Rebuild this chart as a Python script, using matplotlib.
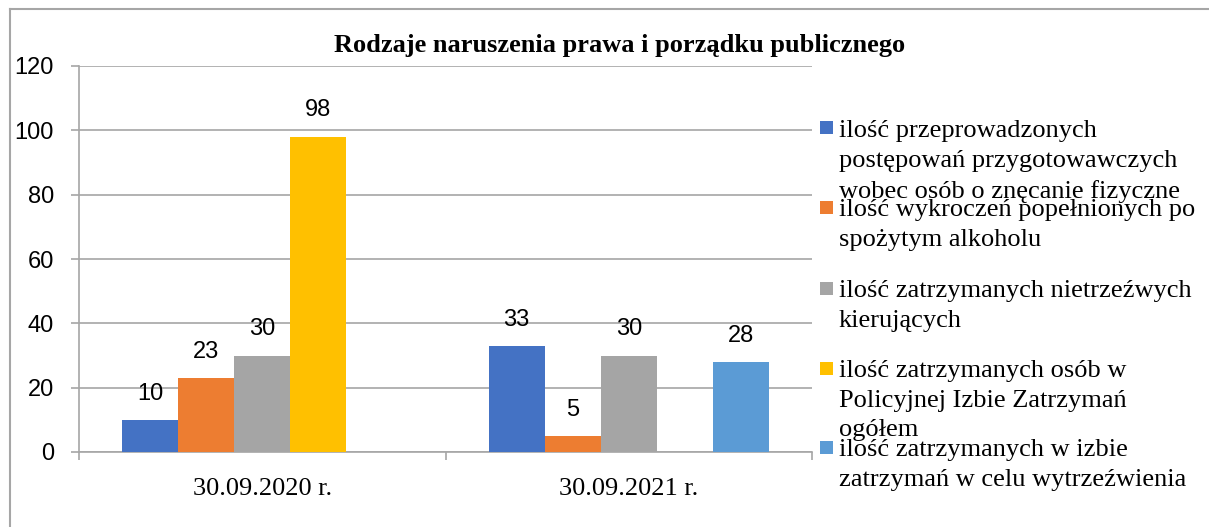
import numpy as np
import matplotlib.pyplot as plt
from matplotlib.patches import Rectangle

# ========== dane ==========
categories = ["30.09.2020 r.", "30.09.2021 r."]
series_names = [
    "ilość przeprowadzonych\npostępowań przygotowawczych\nwobec osób o znęcanie fizyczne",
    "ilość wykroczeń popełnionych po\nspożytym alkoholu",
    "ilość zatrzymanych nietrzeźwych\nkierujących",
    "ilość zatrzymanych osób w\nPolicyjnej Izbie Zatrzymań\nogółem",
    "ilość zatrzymanych w izbie\nzatrzymań w celu wytrzeźwienia",
]
s1 = [10, 33]
s2 = [23, 5]
s3 = [30, 30]
s4 = [98, np.nan]
s5 = [np.nan, 28]
yticks = [0, 20, 40, 60, 80, 100, 120]

colors = ["#4472C4", "#ED7D31", "#A5A5A5", "#FFC000", "#5B9BD5"]
GRID = "#a6a6a6"
SERIF = "Liberation Serif"
SANS = "Liberation Sans"

W, H = 1209, 527
fig = plt.figure(figsize=(W / 100, H / 100), dpi=100)
ax = fig.add_axes([79 / W, 1 - 452 / H, (812 - 79) / W, (452 - 66) / H])

x = np.arange(len(categories))
bw = 56 / 366
for i, vals in enumerate([s1, s2, s3, s4, s5]):
    vals = np.array(vals, dtype=float)
    bars = ax.bar(x + (i - 2) * bw, np.nan_to_num(vals), width=bw,
                  color=colors[i], edgecolor="none", zorder=3)
    labels = ["" if np.isnan(v) else f"{int(v)}" for v in vals]
    ax.bar_label(bars, labels=labels, padding=11, fontsize=17,
                 family=SANS, color="black")

ax.set_xlim(-0.5, len(categories) - 0.5)
ax.set_ylim(0, 120)
ax.set_yticks(yticks)
ax.yaxis.grid(True, color=GRID, lw=1.2, zorder=0)
ax.set_axisbelow(True)

for s in ["top", "right"]:
    ax.spines[s].set_visible(False)
for s in ["left", "bottom"]:
    ax.spines[s].set_color(GRID)
    ax.spines[s].set_linewidth(1.2)

ax.set_xticks(x)
ax.set_xticklabels(categories, family=SERIF, fontsize=19)
ax.set_xticks(np.arange(-0.5, len(categories)), minor=True)
ax.tick_params(axis="x", which="major", length=0, pad=19)
ax.tick_params(axis="x", which="minor", length=6, color=GRID, width=1.2)
ax.tick_params(axis="y", length=6, color=GRID, width=1.2, pad=12, labelsize=17)
for t in ax.get_yticklabels():
    t.set_family(SANS)

fig.text(620 / W, 1 - 45 / H, "Rodzaje naruszenia prawa i porządku publicznego",
         ha="center", va="center", family=SERIF, fontsize=19, fontweight="bold")

# legenda (ręcznie, jak w oryginale – tekst nachodzi na kolejne pozycje)
leg_y = [128, 207, 288, 368, 447]
for name, c, yc in zip(series_names, colors, leg_y):
    fig.patches.append(Rectangle((820 / W, 1 - (yc + 6.5) / H), 13 / W, 13 / H,
                                 transform=fig.transFigure, facecolor=c,
                                 edgecolor="none"))
    fig.text(839 / W, 1 - (yc - 8) / H, name, ha="left", va="top",
             family=SERIF, fontsize=19, linespacing=1.45)

# ramka wykresu
fig.add_artist(plt.Line2D([10 / W, 10 / W], [0, 1 - 9 / H], transform=fig.transFigure,
                          color=GRID, lw=1.5))
fig.add_artist(plt.Line2D([10 / W, 1], [1 - 9 / H, 1 - 9 / H], transform=fig.transFigure,
                          color=GRID, lw=1.5))

fig.savefig("out.png", dpi=100)
